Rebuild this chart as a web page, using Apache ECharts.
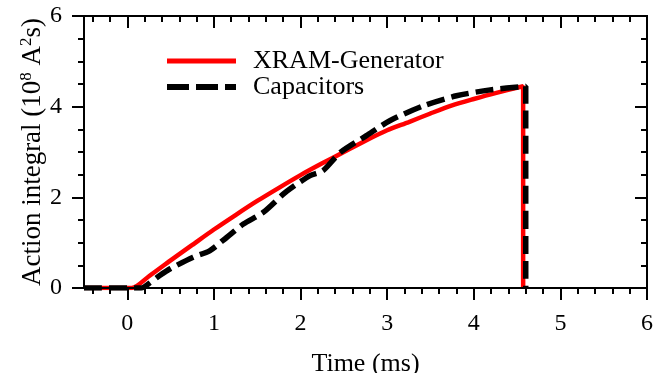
<!DOCTYPE html>
<html>
<head>
<meta charset="utf-8">
<script src="https://cdn.jsdelivr.net/npm/echarts@6/dist/echarts.min.js"></script>
<style>html,body{margin:0;padding:0;background:#fff}#c{width:663px;height:373px}</style>
</head>
<body>
<div id="c"></div>
<script>
// ---- data ----
const seriesNames = ['XRAM-Generator', 'Capacitors'];
const xramTime  = [-0.5, 0.05, 0.25, 0.5, 0.75, 1.0, 1.25, 1.5, 1.75, 2.0, 2.25, 2.5, 2.75, 3.0, 3.25, 3.5, 3.75, 4.0, 4.25, 4.57, 4.57];
const xramValue = [0, 0, 0.26, 0.61, 0.95, 1.29, 1.61, 1.92, 2.21, 2.49, 2.75, 3.00, 3.25, 3.48, 3.66, 3.85, 4.03, 4.17, 4.30, 4.45, 0];
const capTime   = [-0.5, 0.16, 0.25, 0.37, 0.5, 0.76, 0.95, 1.15, 1.34, 1.57, 1.8, 1.88, 2.11, 2.26, 2.46, 2.76, 3.03, 3.42, 3.8, 4.19, 4.6, 4.6];
const capValue  = [0, 0, 0.1, 0.27, 0.43, 0.68, 0.82, 1.12, 1.41, 1.67, 2.07, 2.19, 2.48, 2.59, 2.99, 3.36, 3.69, 4.02, 4.24, 4.37, 4.45, 0];

const xMajorTicks = [0, 1, 2, 3, 4, 5, 6];
const xTickLabels = [0, 1, 2, 3, 4, 5, 6];
const xMinorTicks = [-0.4, -0.2, 0.2, 0.4, 0.6, 0.8, 1.2, 1.4, 1.6, 1.8, 2.2, 2.4, 2.6, 2.8, 3.2, 3.4, 3.6, 3.8, 4.2, 4.4, 4.6, 4.8, 5.2, 5.4, 5.6, 5.8];
const yMajorTicks = [0, 2, 4, 6];
const yTickLabels = [0, 2, 4, 6];
const yMinorTicks = [0.5, 1, 1.5, 2.5, 3, 3.5, 4.5, 5, 5.5];

const xTitle = 'Time (ms)';
const yTitle = 'Action integral (10{sup|8} A{sup|2}s)';

// ---- chart ----
const FONT = '"Liberation Serif", "DejaVu Serif", serif';
const xMin = -0.5, xMax = 6, yMin = 0, yMax = 6;

function xAxisDef(pos, ticks, len, inside, withLabels, extra) {
  return Object.assign({
    type: 'value', position: pos, min: xMin, max: xMax, gridIndex: 0,
    axisLine: { show: true, onZero: false, lineStyle: { color: '#000', width: 2 } },
    axisTick: { show: true, customValues: ticks, length: len, inside: inside, lineStyle: { color: '#000', width: 2 } },
    axisLabel: withLabels ? { show: true, customValues: xTickLabels, color: '#000', fontFamily: FONT, fontSize: 24, margin: 24 } : { show: false },
    splitLine: { show: false }, z: 10
  }, extra || {});
}
function yAxisDef(pos, ticks, len, inside, withLabels, extra) {
  return Object.assign({
    type: 'value', position: pos, min: yMin, max: yMax, gridIndex: 0,
    axisLine: { show: true, onZero: false, lineStyle: { color: '#000', width: 2 } },
    axisTick: { show: true, customValues: ticks, length: len, inside: inside, lineStyle: { color: '#000', width: 2 } },
    axisLabel: withLabels ? { show: true, customValues: yTickLabels, color: '#000', fontFamily: FONT, fontSize: 24, margin: 22 } : { show: false },
    splitLine: { show: false }, z: 10
  }, extra || {});
}

const chart = echarts.init(document.getElementById('c'), null, { renderer: 'canvas' });
chart.setOption({
  animation: false,
  backgroundColor: '#fff',
  grid: { left: 84, right: 16, top: 16, bottom: 85, containLabel: false, outerBoundsMode: 'none' },
  xAxis: [
    xAxisDef('bottom', xMajorTicks, 12, false, true, {
      name: xTitle, nameLocation: 'middle', nameGap: 63, nameMoveOverlap: false,
      nameTextStyle: { color: '#000', fontFamily: FONT, fontSize: 26 }
    }),
    xAxisDef('bottom', xMinorTicks, 6, false, false),
    xAxisDef('top', xMajorTicks, 12, true, false),
    xAxisDef('top', xMinorTicks, 6, true, false)
  ],
  yAxis: [
    yAxisDef('left', yMajorTicks, 12, false, true, {
      name: yTitle, nameLocation: 'middle', nameGap: 36, nameRotate: 90, nameMoveOverlap: false,
      nameTextStyle: {
        color: '#000', fontFamily: FONT, fontSize: 27,
        rich: { sup: { fontFamily: FONT, fontSize: 17, color: '#000', padding: [0, 0, 13, 0] } }
      }
    }),
    yAxisDef('left', yMinorTicks, 6, false, false),
    yAxisDef('right', yMajorTicks, 12, true, false),
    yAxisDef('right', yMinorTicks, 6, true, false)
  ],
  legend: {
    orient: 'vertical', left: 164, top: 48, padding: 0,
    itemWidth: 69, itemHeight: 14, itemGap: 0,
    textStyle: { color: '#000', fontFamily: FONT, fontSize: 26, lineHeight: 26, padding: [0, 0, 0, 12] },
    data: [
      { name: seriesNames[0], itemStyle: { opacity: 0 }, lineStyle: { color: '#ff0000', width: 5, type: 'solid' } },
      { name: seriesNames[1], itemStyle: { opacity: 0 }, lineStyle: { color: '#000', width: 6, type: [22, 7] } }
    ]
  },
  series: [
    {
      name: seriesNames[0], type: 'line', xAxisIndex: 0, yAxisIndex: 0,
      data: xramTime.map((t, i) => [t, xramValue[i]]),
      symbol: 'none', smooth: 0.25, z: 3,
      lineStyle: { color: '#ff0000', width: 4.5 },
      itemStyle: { color: '#ff0000' }
    },
    {
      name: seriesNames[1], type: 'line', xAxisIndex: 0, yAxisIndex: 0,
      data: capTime.map((t, i) => [t, capValue[i]]),
      symbol: 'none', smooth: 0.25, z: 4,
      lineStyle: { color: '#000', width: 5.5, type: [18, 7] },
      itemStyle: { color: '#000' }
    }
  ]
});
</script>
</body>
</html>
